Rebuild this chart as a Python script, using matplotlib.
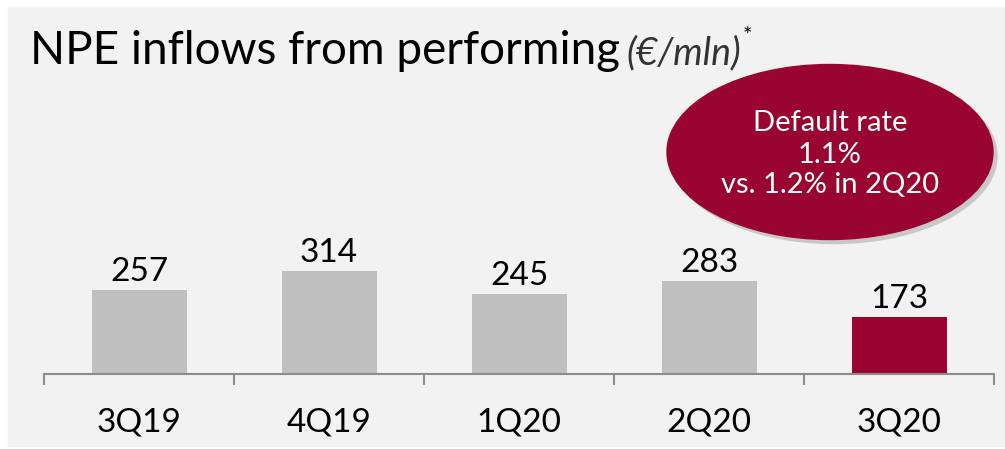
import matplotlib

matplotlib.use("Agg")
import matplotlib.pyplot as plt  # noqa: E402
from matplotlib.patches import Ellipse, Rectangle  # noqa: E402

quarters = ["3Q19", "4Q19", "1Q20", "2Q20", "3Q20"]
inflows = [257, 314, 245, 283, 173]
highlight = "3Q20"

title = "NPE inflows from performing"
unit = "(€/mln)"
bubble_lines = ["Default rate", "1.1%", "vs. 1.2% in 2Q20"]

_GRAY = "#bfbfbf"
_RED = "#990530"
_PANEL = "#f2f2f2"
_AXIS = "#8c8c8c"

plt.rcParams["font.family"] = ["Lato", "DejaVu Sans"]

W, H = 1005, 449
fig = plt.figure(figsize=(W / 100, H / 100), dpi=100, facecolor="white")


def px(x, y):
    """pixel (from top-left) -> figure fraction"""
    return x / W, 1 - y / H


# light grey panel behind everything
fig.patches.append(Rectangle((8 / W, 1 - 446 / H), 1, (446 - 7) / H,
                             transform=fig.transFigure, color=_PANEL,
                             zorder=0))

# axes: baseline at y=374px, 190px per category
ax_bottom = 1 - 374 / H
ax_top = 1 - 100 / H
ax = fig.add_axes([44 / W, ax_bottom, 950 / W, ax_top - ax_bottom])
ax.set_zorder(1)
ax.set_facecolor("none")
ymax = (374 - 100) / 0.327
ax.set_ylim(0, ymax)
ax.set_xlim(-0.5, len(quarters) - 0.5)

colors = [_RED if q == highlight else _GRAY for q in quarters]
x = range(len(quarters))
bars = ax.bar(x, inflows, width=0.5, color=colors, zorder=2)
for b, v in zip(bars, inflows):
    ax.annotate(f"{v}", (b.get_x() + b.get_width() / 2, v),
                xytext=(0, 6.5), textcoords="offset points",
                ha="center", va="baseline", fontsize=24, color="black")

for s in ("left", "right", "top"):
    ax.spines[s].set_visible(False)
ax.spines["bottom"].set_color(_AXIS)
ax.spines["bottom"].set_linewidth(1.5)
ax.set_yticks([])
ax.set_xticks(list(x))
ax.set_xticklabels(quarters, fontsize=24)
ax.tick_params(axis="x", which="major", length=0, pad=24)
ax.set_xticks([i - 0.5 for i in range(len(quarters) + 1)], minor=True)
ax.tick_params(axis="x", which="minor", length=8, width=1.5, color=_AXIS,
               direction="out")

# title pieces laid out left to right
t1 = fig.text(*px(30, 64), title, fontsize=33, va="baseline", ha="left")
fig.canvas.draw()
r = fig.canvas.get_renderer()
bb = t1.get_window_extent(r)
t2 = fig.text((bb.x1 + 6) / W, 1 - 64 / H, unit, fontsize=27,
              style="italic", color="#333333",
              va="baseline", ha="left")
bb2 = t2.get_window_extent(r)
fig.text((bb2.x1 + 2) / W, 1 - 42 / H, "*", fontsize=16, va="baseline",
         ha="left")

# default-rate bubble
cx, cy = px(830, 152)
fig.patches.append(Ellipse((cx + 4 / W, cy - 4 / H), 326 / W, 175 / H,
                           transform=fig.transFigure, color="#c8c8c8",
                           zorder=2))
fig.patches.append(Ellipse((cx, cy), 326 / W, 175 / H,
                           transform=fig.transFigure, color=_RED, zorder=3))
for line, yc in zip(bubble_lines, (123, 155, 185)):
    fig.text(*px(830, yc), line, fontsize=21, color="white",
             ha="center", va="center", zorder=4)

fig.savefig("out.png", dpi=100, facecolor=fig.get_facecolor())
